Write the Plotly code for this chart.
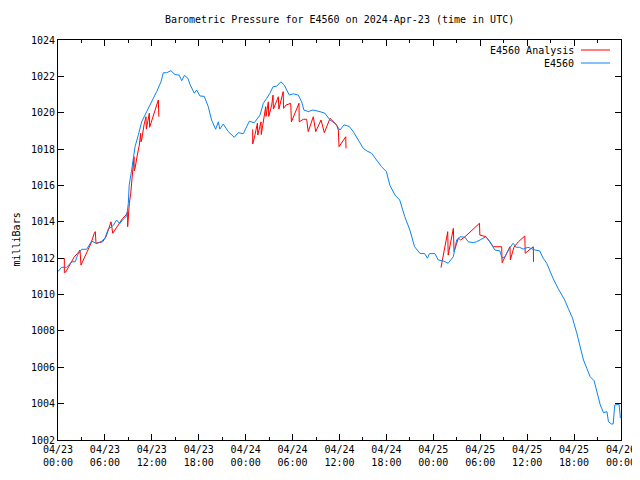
import pandas as pd
import plotly.graph_objects as go

start = pd.Timestamp("2024-04-23 00:00")

# E4560 observed (hours since 2024-04-23 00:00 UTC, millibars)
blue_hours = [0.0, 0.45, 1.1, 1.75, 2.2, 2.5, 3.03, 3.67, 4.3, 4.95, 5.6, 6.0, 6.43, 7.07, 7.5, 7.9,
              8.35, 8.78, 8.99, 9.1, 9.42, 9.85, 10.27, 10.7, 11.34, 11.98, 12.62, 13.17, 13.47, 13.9,
              14.45, 14.96, 15.5, 15.82, 16.17, 16.6, 16.88, 17.43, 17.73, 18.16, 18.7, 19.22, 19.64,
              20.16, 20.5, 20.7, 21.14, 21.77, 22.54, 23.05, 23.7, 24.46, 25.1, 25.83, 26.26, 26.69,
              27.1, 27.5, 27.97, 28.5, 28.95, 29.25, 29.59, 30.1, 30.72, 31.16, 31.45, 32.0, 32.6,
              33.5, 34.14, 34.78, 35.4, 36.06, 36.57, 37.25, 37.76, 38.4, 39.04, 39.5, 40.1, 40.74,
              41.38, 42.0, 42.45, 43.1, 43.7, 44.35, 45.0, 45.6, 46.28, 46.9, 47.25, 47.5, 48.2,
              48.63, 49.27, 49.9, 50.55, 50.98, 51.4, 52.05, 52.47, 53.1, 53.5, 53.97, 54.7, 55.25,
              55.87, 56.5, 56.8, 57.15, 57.6, 58.2, 58.6, 59.0, 59.5, 60.1, 61.0, 61.6, 62.05, 62.5,
              62.9, 63.3, 63.95, 64.4, 64.8, 65.25, 65.8, 66.35, 66.77, 67.2, 67.63, 68.05, 68.56,
              68.9, 69.35, 69.77, 70.2, 70.4, 70.8, 71.0, 71.2, 71.75, 71.93]
blue_values = [1011.26, 1011.5, 1011.5, 1011.8, 1011.8, 1012.17, 1012.49, 1012.49, 1012.94, 1012.8,
               1012.94, 1013.1, 1013.6, 1013.8, 1014.1, 1013.9, 1014.15, 1014.3, 1015.0, 1016.0,
               1016.85, 1018.13, 1018.77, 1019.5, 1020.06, 1020.6, 1021.16, 1021.7, 1022.2, 1022.2,
               1022.31, 1022.1, 1022.07, 1021.76, 1022.06, 1021.9, 1021.56, 1021.07, 1021.25,
               1020.92, 1020.9, 1020.33, 1019.6, 1019.09, 1019.5, 1019.1, 1019.38, 1018.96, 1018.65,
               1018.9, 1018.85, 1019.53, 1019.45, 1019.87, 1020.52, 1020.79, 1021.07, 1021.43,
               1021.46, 1021.7, 1021.52, 1021.25, 1020.97, 1021.04, 1020.97, 1020.6, 1020.15,
               1020.06, 1020.15, 1020.06, 1019.97, 1019.6, 1019.42, 1019.05, 1019.33, 1019.25,
               1018.96, 1018.5, 1018.04, 1017.9, 1017.77, 1017.4, 1017.03, 1016.76, 1016.0, 1015.47,
               1015.2, 1014.28, 1013.55, 1012.63, 1012.27, 1012.25, 1012.0, 1012.25, 1012.25, 1011.9,
               1011.85, 1011.72, 1012.08, 1013.0, 1013.18, 1013.15, 1012.9, 1012.86, 1012.9, 1013.0,
               1013.18, 1012.9, 1012.45, 1012.4, 1012.0, 1012.08, 1012.45, 1012.82, 1012.6, 1012.6,
               1012.5, 1012.6, 1012.45, 1012.4, 1012.0, 1011.72, 1011.26, 1010.9, 1010.34, 1009.97,
               1009.7, 1009.24, 1008.7, 1007.87, 1007.22, 1006.4, 1005.94, 1005.48, 1005.26, 1004.65,
               1003.93, 1003.5, 1003.56, 1003.0, 1002.88, 1002.88, 1003.93, 1003.96, 1003.2]

# E4560 Analysis (None separates gaps)
red_hours = [0.81, 0.81, 1.02, 1.24, 1.66, 2.09, 2.52, 2.81, 2.94, 3.37, 3.8, 4.22, 4.64, 4.77, 4.86,
             5.7, 6.14, 6.57, 6.78, 7.0, 7.42, 7.84, 8.27, 8.7, 8.91, 8.91, 8.99, 9.12, 9.3, 9.42,
             9.55, 9.72, 9.75, 9.85, 10.14, 10.4, 10.57, 10.62, 10.7, 11.0, 11.25, 11.3, 11.6,
             11.68, 11.72, 12.0, 12.4, 12.62, 12.83, 12.9,
             None,
             24.9, 24.9, 25.1, 25.5, 25.55, 25.96, 26.0, 26.39, 26.56, 26.6, 26.9, 26.95, 27.33,
             27.5, 27.55, 28.18, 28.25, 28.8, 28.85, 29.16, 29.76, 29.85, 30.82, 30.85, 31.37,
             31.8, 32.0, 32.65, 32.96, 33.64, 34.06, 34.79, 35.0, 35.64, 35.85, 35.94, 36.8, 36.83,
             None,
             48.98, 49.28, 49.5, 49.84, 49.9, 50.2, 50.56, 50.65, 51.2, 51.5, 52.05, 53.9, 53.95,
             54.74, 55.67, 56.74, 56.8, 57.2, 57.8, 57.85, 58.3, 58.87, 59.7, 59.75, 60.79, 60.81]
red_values = [1012.0, 1011.2, 1011.26, 1011.44, 1011.8, 1012.08, 1012.27, 1012.45, 1011.62, 1012.0,
              1012.45, 1012.82, 1013.37, 1013.46, 1012.82, 1012.9, 1013.18, 1013.82, 1014.0,
              1013.37, 1013.64, 1013.92, 1014.19, 1014.37, 1014.56, 1013.73, 1014.28, 1015.0,
              1015.57, 1016.12, 1016.57, 1017.58, 1016.8, 1016.94, 1017.67, 1018.22, 1018.87,
              1018.4, 1018.5, 1019.32, 1019.78, 1019.1, 1019.7, 1019.97, 1019.2, 1019.6, 1020.15,
              1020.42, 1020.7, 1019.78,
              None,
              1019.09, 1018.28, 1018.6, 1019.42, 1018.77, 1019.5, 1018.8, 1019.78, 1020.33, 1019.8,
              1020.6, 1019.8, 1020.42, 1020.97, 1020.2, 1020.88, 1020.2, 1021.16, 1020.24, 1020.42,
              1020.52, 1019.5, 1020.52, 1019.5, 1019.64, 1019.64, 1018.96, 1019.78, 1018.96,
              1019.6, 1018.9, 1019.69, 1019.6, 1019.33, 1019.05, 1018.13, 1018.68, 1018.04,
              None,
              1011.48, 1012.17, 1012.72, 1013.46, 1012.17, 1012.9, 1013.64, 1012.36, 1013.1,
              1013.0, 1013.18, 1013.92, 1013.27, 1013.18, 1012.63, 1012.63, 1011.75, 1012.1,
              1012.63, 1011.9, 1012.6, 1012.9, 1013.22, 1012.27, 1012.63, 1011.8]

y_ticks = [1002, 1004, 1006, 1008, 1010, 1012, 1014, 1016, 1018, 1020, 1022, 1024]

RED = "#ff0000"
BLUE = "#0a84f0"
FONT = "DejaVu Sans Mono"


def to_time(hours):
    return [None if h is None else start + pd.Timedelta(hours=h) for h in hours]


fig = go.Figure()
fig.add_trace(go.Scatter(x=to_time(red_hours), y=red_values, mode="lines",
                         line=dict(color=RED, width=1), name="E4560 Analysis",
                         connectgaps=False))
fig.add_trace(go.Scatter(x=to_time(blue_hours), y=blue_values, mode="lines",
                         line=dict(color=BLUE, width=1), name="E4560"))

# The page body adds an 8px offset, so the figure is sized 632x472.
fig.update_layout(
    width=632, height=472,
    margin=dict(l=50, r=19, t=32, b=40, autoexpand=False),
    paper_bgcolor="white", plot_bgcolor="white",
    showlegend=False,
    font=dict(family=FONT, size=10, color="black"),
    xaxis=dict(
        type="date",
        automargin=False,
        range=[start, start + pd.Timedelta(hours=72)],
        tickformat="%m/%d<br>%H:%M",
        dtick=6 * 3600 * 1000,
        tick0=start,
        ticks="inside", ticklen=6, tickcolor="black", tickwidth=1,
        minor=dict(dtick=3 * 3600 * 1000, ticks="inside", ticklen=3,
                   tickcolor="black", tickwidth=1, showgrid=False),
        showline=True, linecolor="black", linewidth=1, mirror="allticks",
        showgrid=False, zeroline=False,
        tickfont=dict(family=FONT, size=10, color="black"),
    ),
    yaxis=dict(
        automargin=False,
        range=[1002, 1024],
        tickvals=y_ticks,
        ticktext=[str(v) for v in y_ticks],
        ticks="inside", ticklen=6, tickcolor="black", tickwidth=1,
        showline=True, linecolor="black", linewidth=1, mirror="allticks",
        showgrid=False, zeroline=False,
        tickfont=dict(family=FONT, size=10, color="black"),
    ),
)

# Title and y-axis label
fig.add_annotation(x=0.5, y=1 + 21 / 400, xref="paper", yref="paper",
                   text="Barometric Pressure for E4560 on 2024-Apr-23 (time in UTC)",
                   showarrow=False, xanchor="center", yanchor="middle",
                   font=dict(family=FONT, size=10, color="black"))
fig.add_annotation(x=-50 / 563, y=0.5, xref="paper", yref="paper",
                   text="milliBars", textangle=-90,
                   showarrow=False, xanchor="left", yanchor="middle",
                   font=dict(family=FONT, size=10, color="black"))

# Legend (gnuplot style: text then line sample)
legend_items = [("E4560 Analysis", RED), ("E4560", BLUE)]
for i, (label, color) in enumerate(legend_items):
    ypix = 50 + 13 * i
    yp = 1 - (ypix - 40) / 400
    fig.add_annotation(x=(576 - 58) / 563, y=yp, xref="paper", yref="paper",
                       text=label, showarrow=False, xanchor="right", yanchor="middle",
                       font=dict(family=FONT, size=10, color="black"))
    fig.add_shape(type="line", xref="paper", yref="paper",
                  x0=(581 - 58) / 563, x1=(610 - 58) / 563, y0=yp, y1=yp,
                  line=dict(color=color, width=1))

fig.write_html("out.html")
